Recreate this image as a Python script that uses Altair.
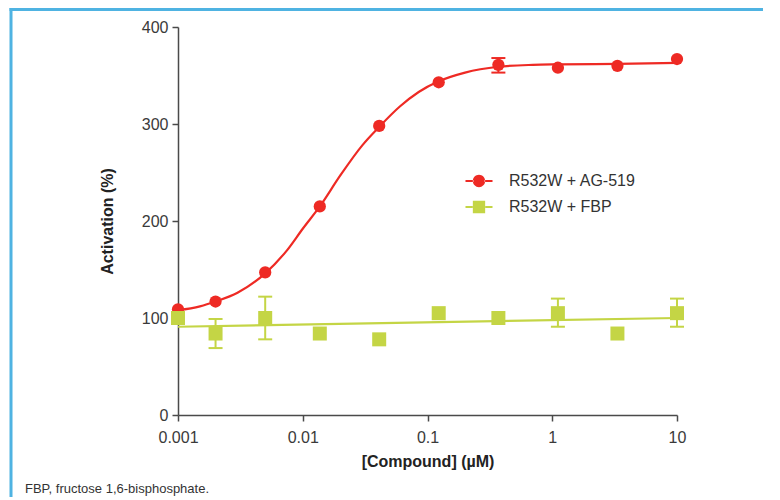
import altair as alt
import pandas as pd

# ---- data ----
series_names = ["R532W + AG-519", "R532W + FBP"]
conc = [0.001, 0.002, 0.005, 0.0137, 0.041, 0.123, 0.37, 1.11, 3.33, 10]
ag519 = [109, 117, 147, 215, 298, 343, 361, 358, 360, 367]
fbp = [100, 84, 100, 84, 78, 105, 100, 105, 84, 105]

# error bars (concentration, low, high)
ag_err_conc = [0.37]
ag_err_lo = [353]
ag_err_hi = [368]
fbp_err_conc = [0.002, 0.005, 1.11, 10]
fbp_err_lo = [69, 78, 91, 91]
fbp_err_hi = [99, 122, 120, 120]

# fitted curves
ag_fit_conc = [0.001, 0.0015, 0.002, 0.003, 0.005, 0.0075, 0.01, 0.0137, 0.02, 0.03,
               0.041, 0.06, 0.085, 0.123, 0.2, 0.37, 0.7, 1.11, 3.33, 10]
ag_fit_val = [108, 112, 117, 126, 146, 170, 192, 215, 247, 278,
              297, 318, 333, 344, 353, 359, 361, 361.5, 362, 363]
fbp_fit_conc = [0.001, 10]
fbp_fit_val = [91, 100]

x_ticks = [0.001, 0.01, 0.1, 1, 10]
y_ticks = [0, 100, 200, 300, 400]
footnote = ["FBP, fructose 1,6-bisphosphate."]

RED = "#ee2a24"
GREEN = "#c4d545"
BLUE = "#4fb3e2"
FONT = "Liberation Sans"

pts = pd.DataFrame({
    "conc": conc + conc,
    "act": ag519 + fbp,
    "series": [series_names[0]] * len(conc) + [series_names[1]] * len(conc),
})
err = pd.DataFrame({
    "conc": ag_err_conc + fbp_err_conc,
    "lo": ag_err_lo + fbp_err_lo,
    "hi": ag_err_hi + fbp_err_hi,
    "series": [series_names[0]] * len(ag_err_conc) + [series_names[1]] * len(fbp_err_conc),
})
fit = pd.DataFrame({
    "conc": ag_fit_conc + fbp_fit_conc,
    "act": ag_fit_val + fbp_fit_val,
    "series": [series_names[0]] * len(ag_fit_conc) + [series_names[1]] * len(fbp_fit_conc),
})

x_scale = alt.Scale(type="log", domain=[0.001, 10], nice=False)
y_scale = alt.Scale(domain=[0, 400], nice=False)
color_scale = alt.Scale(domain=series_names, range=[RED, GREEN])

x_axis = alt.Axis(values=x_ticks, format="~g", title="[Compound] (µM)",
                  labelPadding=8, titlePadding=8, labelFlush=False)
y_axis = alt.Axis(values=y_ticks, title="Activation (%)", labelPadding=4, titlePadding=26)

X = alt.X("conc:Q", scale=x_scale, axis=x_axis)
Y = alt.Y("act:Q", scale=y_scale, axis=y_axis)
C = alt.Color("series:N", scale=color_scale)

path_circle = ("M-1.93,-0.15H-0.8V0.15H-1.93Z M0.8,-0.15H1.93V0.15H0.8Z "
               "M-0.88,0A0.88,0.88,0,1,0,0.88,0A0.88,0.88,0,1,0,-0.88,0Z")
path_square = ("M-1.93,-0.15H-0.9V0.15H-1.93Z M0.9,-0.15H1.93V0.15H0.9Z "
               "M-0.88,-0.88H0.88V0.88H-0.88Z")

leg = dict(orient="none", legendX=293, legendY=146, title=None, labelFontSize=16,
           labelFont=FONT, labelColor="#333333", labelOffset=22, symbolSize=196,
           rowPadding=10, symbolOpacity=1, symbolStrokeWidth=0, padding=0,
           symbolType=path_circle)

legend_layer = alt.Chart(pts).mark_point(filled=True, opacity=0).encode(
    x=X, y=Y,
    color=alt.Color("series:N", scale=color_scale, legend=alt.Legend(**leg)),
    shape=alt.Shape("series:N", scale=alt.Scale(domain=series_names,
                                                range=[path_circle, path_square]),
                    legend=alt.Legend(**leg)),
)

lines = alt.Chart(fit).mark_line(strokeWidth=2.2, interpolate="monotone").encode(x=X, y=Y, color=C)

rules = alt.Chart(err).mark_rule(strokeWidth=2).encode(
    x=X, y=alt.Y("lo:Q", scale=y_scale), y2="hi:Q", color=C)

caps = alt.Chart(err).transform_fold(["lo", "hi"], as_=["end", "val"]).mark_tick(
    orient="horizontal", size=14, thickness=2, opacity=1).encode(
    x=X, y=alt.Y("val:Q", scale=y_scale), color=C)

red_pts = alt.Chart(pts).transform_filter(alt.datum.series == series_names[0]).mark_point(
    filled=True, shape="circle", size=150, opacity=1).encode(x=X, y=Y, color=C)

green_pts = alt.Chart(pts).transform_filter(alt.datum.series == series_names[1]).mark_point(
    filled=True, shape="square", size=196, opacity=1).encode(x=X, y=Y, color=C)

one = pd.DataFrame({"k": [0]})
border_left = alt.Chart(one).mark_rect(color=BLUE, opacity=1).encode(
    x=alt.value(-168.5), x2=alt.value(-165.5), y=alt.value(-19), y2=alt.value(475))
border_top = alt.Chart(one).mark_rect(color=BLUE, opacity=1).encode(
    x=alt.value(-168.5), x2=alt.value(585), y=alt.value(-19), y2=alt.value(-16))

note = alt.Chart(pd.DataFrame({"t": footnote})).mark_text(
    align="left", baseline="alphabetic", fontSize=13, font=FONT, color="#333333").encode(
    x=alt.value(-153), y=alt.value(466), text="t:N")

chart = alt.layer(
    legend_layer, border_left, border_top, lines, rules, caps, red_pts, green_pts, note
).properties(
    width=499, height=388,
    autosize=alt.AutoSizeParams(type="none"),
    padding={"left": 170, "top": 19, "right": 92, "bottom": 82},
).configure_view(stroke=None).configure_axis(
    grid=False, domainColor="#4a4a4a", domainWidth=1.5, tickColor="#4a4a4a",
    tickWidth=1.5, tickSize=6, labelFontSize=16, labelFont=FONT, labelColor="#3a3a3a",
    titleFontSize=16, titleFont=FONT, titleFontWeight="bold", titleColor="#222222",
)

chart.save("out.html", embed_options={"renderer": "svg", "actions": False})
